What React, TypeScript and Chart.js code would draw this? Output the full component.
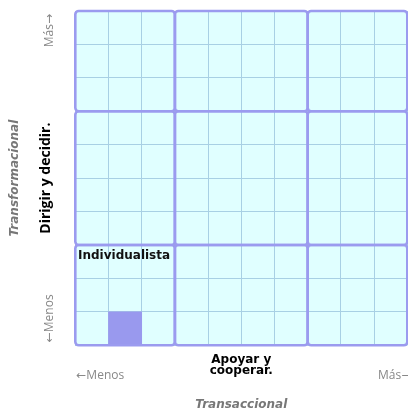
import { useEffect, useRef } from 'react';
import { Chart, registerables } from 'chart.js';

Chart.register(...registerables);

// ---- data ----
const cellCategories = ['1', '2', '3', '4', '5', '6', '7', '8', '9', '10'];
const cellValues: (number | null)[] = [null, 1, null, null, null, null, null, null, null, null];
const regionBounds = [0, 3, 7, 10];
// rows listed from bottom to top, columns from left to right
const regionNames = [
  ['Individualista', '', ''],
  ['', '', ''],
  ['', '', ''],
];
const xTitle = ['Apoyar y', 'cooperar.'];
const xOuterTitle = 'Transaccional';
const yTitle = 'Dirigir y decidir.';
const yOuterTitle = 'Transformacional';
const lowLabel = '←Menos';
const highLabel = 'Más→';

const quadrantPlugin = {
  id: 'quadrants',
  beforeDraw(chart: any) {
    const { ctx, chartArea: a } = chart;
    ctx.save();
    ctx.fillStyle = '#e0ffff';
    ctx.fillRect(a.left, a.top, a.right - a.left, a.bottom - a.top);
    ctx.restore();
  },
  afterDatasetsDraw(chart: any) {
    const { ctx, scales } = chart;
    const xs = scales.x;
    const ys = scales.y;
    ctx.save();
    ctx.strokeStyle = '#9b9bef';
    ctx.lineWidth = 2.6;
    for (let i = 0; i < regionBounds.length - 1; i++) {
      for (let j = 0; j < regionBounds.length - 1; j++) {
        const l = xs.getPixelForValue(regionBounds[i]);
        const r = xs.getPixelForValue(regionBounds[i + 1]);
        const b = ys.getPixelForValue(regionBounds[j]);
        const t = ys.getPixelForValue(regionBounds[j + 1]);
        ctx.beginPath();
        ctx.roundRect(l, t, r - l, b - t, 3.5);
        ctx.stroke();
      }
    }
    ctx.font = 'bold 12px "DejaVu Sans"';
    ctx.fillStyle = '#111';
    ctx.textAlign = 'left';
    ctx.textBaseline = 'alphabetic';
    for (let j = 0; j < regionNames.length; j++) {
      for (let i = 0; i < regionNames[j].length; i++) {
        const name = regionNames[j][i];
        if (!name) continue;
        const l = xs.getPixelForValue(regionBounds[i]);
        const t = ys.getPixelForValue(regionBounds[j + 1]);
        ctx.fillText(name, l + 2.7, t + 14.2);
      }
    }
    ctx.restore();
  },
  afterDraw(chart: any) {
    const { ctx, chartArea: a } = chart;
    ctx.save();
    ctx.font = '12px "Open Sans", "DejaVu Sans"';
    ctx.fillStyle = '#888';
    ctx.textBaseline = 'alphabetic';
    // x axis ends
    ctx.textAlign = 'left';
    ctx.fillText(lowLabel, a.left + 1, 379);
    ctx.textAlign = 'right';
    ctx.fillText(highLabel, a.right + 4, 379);
    // y axis ends (rotated)
    ctx.save();
    ctx.translate(53, a.top + 3);
    ctx.rotate(-Math.PI / 2);
    ctx.textAlign = 'right';
    ctx.fillText(highLabel, 0, 0);
    ctx.restore();
    ctx.save();
    ctx.translate(53, a.bottom - 3);
    ctx.rotate(-Math.PI / 2);
    ctx.textAlign = 'left';
    ctx.fillText(lowLabel, 0, 0);
    ctx.restore();
    ctx.restore();
  },
};

export default function App() {
  const ref = useRef<HTMLCanvasElement>(null);
  useEffect(() => {
    if (!ref.current) return;
    const gridColor = '#a8d0e4';
    const chart = new Chart(ref.current, {
      type: 'bar',
      data: {
        labels: cellCategories,
        datasets: [
          {
            data: cellValues,
            xAxisID: 'xc',
            yAxisID: 'y',
            backgroundColor: '#9999ee',
            borderWidth: 0,
            barPercentage: 1,
            categoryPercentage: 1,
          } as any,
        ],
      },
      options: {
        animation: false,
        responsive: false,
        layout: { padding: { top: 11, right: 0.7, left: 0, bottom: 0 } },
        plugins: { legend: { display: false }, tooltip: { enabled: false } },
        scales: {
          xc: {
            type: 'category',
            display: false,
            offset: true,
            grid: { offset: true },
          },
          x: {
            type: 'linear',
            position: 'bottom',
            weight: 0,
            min: 0,
            max: 10,
            offset: false,
            grid: { color: gridColor, lineWidth: 1, drawTicks: false, offset: false },
            border: { display: false },
            ticks: { display: false, stepSize: 1 },
            title: {
              display: true,
              text: xTitle,
              color: '#000',
              font: { family: 'DejaVu Sans', size: 12, weight: 'bold', lineHeight: 0.96 },
              padding: { top: 8.8, bottom: 0 },
            },
          },
          x2: {
            type: 'linear',
            position: 'bottom',
            weight: 1,
            min: 0,
            max: 10,
            offset: false,
            grid: { display: false, drawTicks: false },
            border: { display: false },
            ticks: { display: false },
            title: {
              display: true,
              text: xOuterTitle,
              color: '#777',
              font: { family: 'DejaVu Sans', size: 12, weight: 'bold', style: 'italic', lineHeight: 1.2 },
              padding: { top: 21.05, bottom: 3.45 },
            },
          },
          y: {
            type: 'linear',
            position: 'left',
            weight: 0,
            min: 0,
            max: 10,
            grid: { color: gridColor, lineWidth: 1, drawTicks: false },
            border: { display: false },
            ticks: { display: false, stepSize: 1 },
            title: {
              display: true,
              text: yTitle,
              color: '#000',
              font: { family: 'Open Sans', size: 14, weight: 'bold', lineHeight: 1.2 },
              padding: { top: 9.2, bottom: 20.9 },
            },
          },
          y2: {
            type: 'linear',
            position: 'left',
            weight: 1,
            min: 0,
            max: 10,
            grid: { display: false, drawTicks: false },
            border: { display: false },
            ticks: { display: false },
            title: {
              display: true,
              text: yOuterTitle,
              color: '#777',
              font: { family: 'DejaVu Sans', size: 12, weight: 'bold', style: 'italic', lineHeight: 1.2 },
              padding: { top: 8, bottom: 6 },
            },
          },
        },
      } as any,
      plugins: [quadrantPlugin],
    });
    return () => chart.destroy();
  }, []);
  return (
    <div style={{ position: 'fixed', left: 0, top: 0, width: 408, height: 416 }}>
      <canvas ref={ref} width={408} height={416} style={{ display: 'block' }} />
    </div>
  );
}
